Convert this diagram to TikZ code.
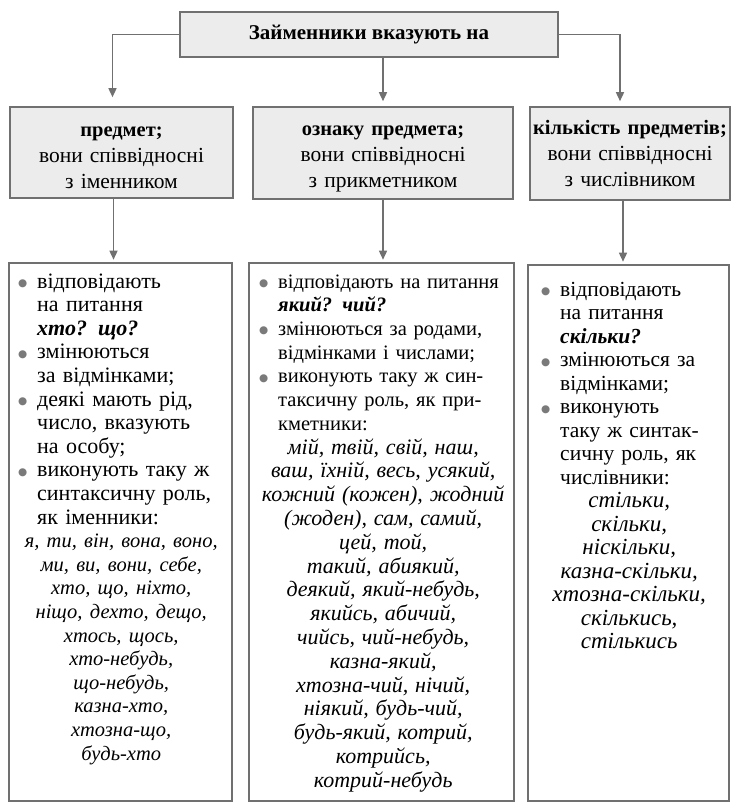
\documentclass[tikz,border=0pt]{standalone}
\usepackage{fontspec}
\setmainfont{Liberation Serif}
\newfontfamily\symfont{DejaVu Sans}
\usetikzlibrary{arrows.meta}
\definecolor{bordergray}{HTML}{707070}
\definecolor{fillgray}{HTML}{ECECEC}
\definecolor{bulletgray}{HTML}{7A7A7A}
\newcommand\bul{\makebox[19pt][l]{\raisebox{1.5pt}{\textcolor{bulletgray}{\symfont\fontsize{10.5}{10.5}\selectfont ●}}}}
\newcommand\fitem{\noindent\hangindent=19pt\hangafter=1\bul}
\newcommand\bitem{\par\fitem}
\newcommand\jline[1]{\makebox[228pt][s]{#1}}
\begin{document}
\begin{tikzpicture}[x=1pt,y=-1pt,
  graybox/.style={draw=bordergray, line width=1.6pt, fill=fillgray, inner sep=0pt},
  lowbox/.style={draw=bordergray, line width=1.6pt, fill=white, inner sep=0pt},
  midtext/.style={inner sep=0pt, anchor=base, align=center, text width=220pt, font=\fontsize{21.5}{26}\selectfont},
  conn/.style={draw=bordergray, line width=1.5pt, -{Triangle[length=9pt,width=8pt]}, shorten >=#1},
  conn/.default=5pt,
  listtext/.style={inner sep=0pt, anchor=base west, text width=#1}]
\useasboundingbox (0,0) rectangle (731,803);
% top
\node[graybox, minimum width=378pt, minimum height=45pt, font=\fontsize{21}{25}\selectfont\bfseries] (top) at (369,34.5) {Займенники вказують на};
% middle boxes
\node[graybox, minimum width=223pt, minimum height=91pt] (mid1) at (121.5,152.5) {};
\node[graybox, minimum width=260pt, minimum height=92pt] (mid2) at (383,153) {};
\node[graybox, minimum width=200pt, minimum height=93pt] (mid3) at (630,153.5) {};
\node[midtext] (m1) at (mid1.center |- 0,136) {{\fontsize{20.5}{26}\selectfont\bfseries предмет;}\\вони співвідносні\\з іменником};
\node[midtext] (m2) at (mid2.center |- 0,135) {{\fontsize{20.5}{26}\selectfont\bfseries ознаку предмета;}\\вони співвідносні\\з прикметником};
\node[midtext] (m3) at (mid3.center |- 0,134) {{\fontsize{20.5}{26}\selectfont\bfseries кількість предметів;}\\вони співвідносні\\з числівником};
% lower boxes
\node[lowbox, minimum width=223pt, minimum height=538pt] (low1) at (120.5,532) {};
\node[lowbox, minimum width=265pt, minimum height=538pt] (low2) at (381.5,532) {};
\node[lowbox, minimum width=201pt, minimum height=536pt] (low3) at (628.5,533) {};
% texts
\node[listtext=206pt, font=\fontsize{22}{23.6}\selectfont] (t1) at (18,288) {%
\fitem відповідають\newline на питання\newline \textbf{\textit{хто? що?}}
\bitem змінюються\newline за відмінками;
\bitem деякі мають рід,\newline число, вказують\newline на особу;
\bitem виконують таку ж\newline синтаксичну роль,\newline як іменники:
\par{\centering\itshape\fontsize{20.5}{23.6}\selectfont я, ти, він, вона, воно,\\ми, ви, вони, себе,\\хто, що, ніхто,\\ніщо, дехто, дещо,\\хтось, щось,\\хто-небудь,\\що-небудь,\\казна-хто,\\хтозна-що,\\будь-хто\par}};
\node[listtext=248pt, font=\fontsize{20.5}{23.7}\selectfont] (t2) at (259,288) {%
\fitem відповідають на питання\newline \textbf{\textit{який? чий?}}
\bitem \jline{змінюються за родами,}\newline \jline{відмінками і числами;}
\bitem \jline{виконують таку ж син-}\newline \jline{таксичну роль, як при-}\newline кметники:
\par{\centering\itshape\fontsize{22}{23.8}\selectfont мій, твій, свій, наш,\\ваш, їхній, весь, усякий,\\кожний (кожен), жодний\\(жоден), сам, самий,\\цей, той,\\такий, абиякий,\\деякий, який-небудь,\\якийсь, абичий,\\чийсь, чий-небудь,\\казна-який,\\хтозна-чий, нічий,\\ніякий, будь-чий,\\будь-який, котрий,\\котрийсь,\\котрий-небудь\par}};
\node[listtext=176pt, font=\fontsize{21.5}{23.5}\selectfont] (t3) at (541,296) {%
\fitem відповідають\newline на питання\newline \textbf{\textit{скільки?}}
\bitem змінюються за\newline відмінками;
\bitem виконують\newline таку ж синтак-\newline сичну роль, як\newline числівники:
\par{\centering\itshape\fontsize{23}{23.5}\selectfont стільки,\\скільки,\\ніскільки,\\казна-скільки,\\хтозна-скільки,\\скількись,\\стількись\par}};
% connectors
\draw[conn=9pt] (top.west) -| ([xshift=-9pt]mid1.north);
\draw[conn] (top.south -| mid2.north) -- (mid2.north);
\draw[conn] (top.east) -| ([xshift=-10pt]mid3.north);
\draw[conn=2.5pt] ([xshift=-8pt]mid1.south) -- ([xshift=-8pt]mid1.south |- low1.north);
\draw[conn=2.5pt] (mid2.south) -- (mid2.south |- low2.north);
\draw[conn=2.5pt] ([xshift=-7pt]mid3.south) -- ([xshift=-7pt]mid3.south |- low3.north);
\end{tikzpicture}
\end{document}
